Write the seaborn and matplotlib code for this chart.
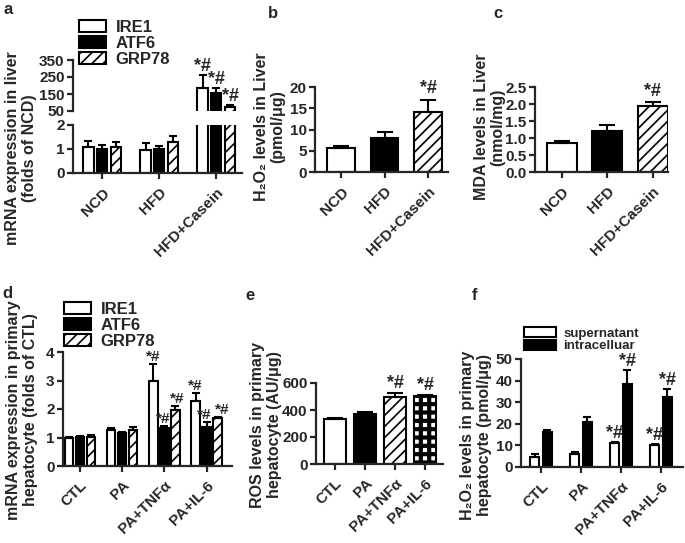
import numpy as np
import pandas as pd
import seaborn as sns
import matplotlib.pyplot as plt
from matplotlib.patches import Patch

# ---- data ----
liver_groups = ["NCD", "HFD", "HFD+Casein"]
cell_groups = ["CTL", "PA", "PA+TNFα", "PA+IL-6"]
genes = ["IRE1", "ATF6", "GRP78"]

# a: mRNA in liver (folds of NCD)
ire1_liver = [1.1, 0.95, 185]
ire1_liver_err = [0.25, 0.28, 75]
atf6_liver = [1.0, 0.98, 155]
atf6_liver_err = [0.15, 0.15, 30]
grp78_liver = [1.08, 1.3, 75]
grp78_liver_err = [0.2, 0.25, 12]

# b: H2O2 in liver
h2o2_liver = [5.6, 7.9, 14.1]
h2o2_liver_err = [0.6, 1.5, 2.9]

# c: MDA in liver
mda_liver = [0.84, 1.2, 1.93]
mda_liver_err = [0.06, 0.19, 0.14]

# d: mRNA in hepatocytes (folds of CTL)
ire1_cell = [1.0, 1.25, 3.0, 2.27]
ire1_cell_err = [0.03, 0.1, 0.58, 0.28]
atf6_cell = [1.02, 1.17, 1.35, 1.38]
atf6_cell_err = [0.02, 0.03, 0.05, 0.15]
grp78_cell = [1.03, 1.27, 1.95, 1.68]
grp78_cell_err = [0.05, 0.1, 0.15, 0.04]

# e: ROS in hepatocytes
ros_cell = [333, 372, 496, 502]
ros_cell_err = [8, 10, 28, 10]

# f: H2O2 in hepatocytes
sources = ["supernatant", "intracelluar"]
h2o2_sup = [4.8, 6.0, 11.0, 10.0]
h2o2_sup_err = [1.2, 0.8, 0.7, 0.5]
h2o2_intra = [16.3, 21.0, 38.4, 32.2]
h2o2_intra_err = [0.6, 2.0, 6.3, 3.7]

sns.set_style("ticks")
plt.rcParams["font.family"] = ["Liberation Sans", "DejaVu Sans"]
plt.rcParams["font.weight"] = "bold"
plt.rcParams["axes.labelweight"] = "bold"
plt.rcParams["hatch.linewidth"] = 1.2

W, H = 685, 543
fig = plt.figure(figsize=(W / 100, H / 100), dpi=100)


def box(x0, x1, y0, y1):
    # axes from pixel edges (y measured from the top)
    return fig.add_axes([x0 / W, 1 - y1 / H, (x1 - x0) / W, (y1 - y0) / H])


def long_frame(groups, names, series):
    rows = []
    for name, vals in zip(names, series):
        for g, v in zip(groups, vals):
            rows.append({"group": g, "series": name, "value": v})
    return pd.DataFrame(rows)


def style(ax, xlim, bottom=True):
    sns.despine(ax=ax)
    ax.spines["left"].set_linewidth(1.6)
    ax.spines["bottom"].set_linewidth(1.6)
    ax.tick_params(width=1.6, length=4, labelsize=11, pad=2)
    ax.tick_params(axis="x", pad=5)
    ax.set_xlim(*xlim)
    ax.set_xlabel("")
    ax.set_ylabel("")
    if bottom:
        plt.setp(ax.get_xticklabels(), rotation=45, ha="right",
                 rotation_mode="anchor")


def bars_sorted(ax):
    return sorted(ax.patches, key=lambda p: p.get_x())


def add_err(ax, bars, vals, errs, cap):
    xs = [b.get_x() + b.get_width() / 2 for b in bars]
    ax.errorbar(xs, vals, yerr=[np.zeros(len(vals)), errs], fmt="none",
                ecolor="black", elinewidth=1.5, capsize=cap, capthick=1.5)


def star(ax, bar, top, size=13, dx=0):
    ax.annotate("*#", (bar.get_x() + bar.get_width() / 2, top),
                xytext=(dx, 0), textcoords="offset points", ha="center",
                va="bottom", fontsize=size, annotation_clip=False,
                clip_on=False)


def grouped(ax, groups, names, series, colors, width, gap):
    df = long_frame(groups, names, series)
    sns.barplot(data=df, x="group", y="value", hue="series", order=groups,
                hue_order=names, palette=colors, edgecolor="black",
                linewidth=1.5, width=width, gap=gap, errorbar=None,
                legend=False, ax=ax)


def single(ax, groups, vals, colors, width):
    sns.barplot(x=groups, y=vals, hue=groups, order=groups, hue_order=groups,
                palette=colors, edgecolor="black", linewidth=1.5, width=width,
                errorbar=None, legend=False, ax=ax)


gene_colors = ["white", "black", "white"]
gene_hatch = [None, None, "///"]

# ---------------- a (broken axis) ----------------
a_vals = [ire1_liver, atf6_liver, grp78_liver]
a_errs = [ire1_liver_err, atf6_liver_err, grp78_liver_err]
flat_a = [a_vals[j][i] for i in range(3) for j in range(3)]
flat_a_err = [a_errs[j][i] for i in range(3) for j in range(3)]

ax_up = box(73, 242, 60, 111)
ax_lo = box(73, 242, 125, 173)
for ax in (ax_up, ax_lo):
    grouped(ax, liver_groups, genes, a_vals, gene_colors, 0.72, 0.25)
    bars = bars_sorted(ax)
    for k, b in enumerate(bars):
        if gene_hatch[k % 3]:
            b.set_hatch(gene_hatch[k % 3])
    add_err(ax, bars, flat_a, flat_a_err, 3)
ax_up.set_ylim(50, 350)
ax_up.set_yticks([50, 150, 250, 350])
style(ax_up, (-0.51, 2.45), bottom=False)
ax_up.spines["bottom"].set_visible(False)
ax_up.tick_params(axis="x", bottom=False, labelbottom=False)
ax_lo.set_ylim(0, 2)
ax_lo.set_yticks([0, 1, 2])
style(ax_lo, (-0.51, 2.45))
up_bars = bars_sorted(ax_up)
for k in range(6, 9):
    star(ax_up, up_bars[k], flat_a[k] + flat_a_err[k])

# ---------------- b ----------------
ax_b = box(315, 448, 87, 172)
single(ax_b, liver_groups, h2o2_liver, gene_colors, 0.64)
bars = bars_sorted(ax_b)
bars[2].set_hatch("///")
add_err(ax_b, bars, h2o2_liver, h2o2_liver_err, 6)
ax_b.set_ylim(0, 20)
ax_b.set_yticks([0, 5, 10, 15, 20])
style(ax_b, (-0.6, 2.46))
star(ax_b, bars[2], h2o2_liver[2] + h2o2_liver_err[2] + 0.6)

# ---------------- c ----------------
ax_c = box(535, 668, 87, 172)
single(ax_c, liver_groups, mda_liver, gene_colors, 0.66)
bars = bars_sorted(ax_c)
bars[2].set_hatch("///")
add_err(ax_c, bars, mda_liver, mda_liver_err, 6)
ax_c.set_ylim(0, 2.5)
ax_c.set_yticks([0, 0.5, 1.0, 1.5, 2.0, 2.5])
ax_c.set_yticklabels(["0.0", "0.5", "1.0", "1.5", "2.0", "2.5"])
style(ax_c, (-0.59, 2.34))
star(ax_c, bars[2], mda_liver[2] + mda_liver_err[2] + 0.05)

# ---------------- d ----------------
d_vals = [ire1_cell, atf6_cell, grp78_cell]
d_errs = [ire1_cell_err, atf6_cell_err, grp78_cell_err]
flat_d = [d_vals[j][i] for i in range(4) for j in range(3)]
flat_d_err = [d_errs[j][i] for i in range(4) for j in range(3)]
ax_d = box(63, 232, 352, 466)
grouped(ax_d, cell_groups, genes, d_vals, gene_colors, 0.78, 0.22)
bars = bars_sorted(ax_d)
for k, b in enumerate(bars):
    if gene_hatch[k % 3]:
        b.set_hatch(gene_hatch[k % 3])
add_err(ax_d, bars, flat_d, flat_d_err, 3)
ax_d.set_ylim(0, 4)
ax_d.set_yticks([0, 1, 2, 3, 4])
style(ax_d, (-0.4, 3.6))
d_shift = [0, -1, 1, 0, -2, 3]
for k, dx in zip(range(6, 12), d_shift):
    star(ax_d, bars[k], flat_d[k] + flat_d_err[k], size=11, dx=dx)

# ---------------- e ----------------
ax_e = box(316, 443, 383, 464)
single(ax_e, cell_groups, ros_cell, ["white", "black", "white", "white"], 0.73)
bars = bars_sorted(ax_e)
bars[2].set_hatch("///")
bars[3].set_hatch("++")
if hasattr(bars[3], "set_hatch_linewidth"):
    bars[3].set_hatch_linewidth(3.0)
add_err(ax_e, bars, ros_cell, ros_cell_err, 6)
ax_e.set_ylim(0, 600)
ax_e.set_yticks([0, 200, 400, 600])
style(ax_e, (-0.63, 3.6))
for k in (2, 3):
    star(ax_e, bars[k], ros_cell[k] + ros_cell_err[k] + 8)

# ---------------- f ----------------
f_vals = [h2o2_sup, h2o2_intra]
f_errs = [h2o2_sup_err, h2o2_intra_err]
flat_f = [f_vals[j][i] for i in range(4) for j in range(2)]
flat_f_err = [f_errs[j][i] for i in range(4) for j in range(2)]
ax_f = box(521, 683, 359, 467)
grouped(ax_f, cell_groups, sources, f_vals, ["white", "black"], 0.64, 0.3)
bars = bars_sorted(ax_f)
add_err(ax_f, bars, flat_f, flat_f_err, 3)
ax_f.set_ylim(0, 50)
ax_f.set_yticks([0, 10, 20, 30, 40, 50])
style(ax_f, (-0.5, 3.55))
for k in range(4, 8):
    star(ax_f, bars[k], flat_f[k] + flat_f_err[k])

# ---------------- legends ----------------
gene_handles = [Patch(facecolor=c, edgecolor="black", linewidth=1.5, hatch=h)
                for c, h in zip(gene_colors, gene_hatch)]
leg_kw = dict(loc="upper left", frameon=False, handlelength=1.6,
              handleheight=0.75, labelspacing=0.05, borderpad=0,
              borderaxespad=0, handletextpad=0.6)
fig.legend(gene_handles, genes, bbox_to_anchor=(79 / W, 1 - 20 / H),
           fontsize=12, **leg_kw)
fig.legend(gene_handles, genes, bbox_to_anchor=(64 / W, 1 - 302 / H),
           fontsize=12, **leg_kw)
src_handles = [Patch(facecolor=c, edgecolor="black", linewidth=1.5)
               for c in ["white", "black"]]
leg_kw.update(handlelength=2.4, labelspacing=0.0, handleheight=0.8)
fig.legend(src_handles, sources, bbox_to_anchor=(524 / W, 1 - 327 / H),
           fontsize=9.5, **leg_kw)

# ---------------- y labels ----------------
def ylab(x, y, text):
    fig.text(x / W, 1 - y / H, text, rotation=90, ha="center", va="center",
             multialignment="center", fontsize=11.5, linespacing=1.1)


ylab(21, 148, "mRNA expression in liver\n(folds of NCD)")
ylab(270, 127, "H₂O₂ levels in Liver\n(pmol/μg)")
ylab(490, 127, "MDA levels in Liver\n(nmol/mg)")
ylab(22, 410, "mRNA expression in primary\nhepatocyte (folds of CTL)")
ylab(266, 425, "ROS levels in primary\nhepatocyte (AU/μg)")
ylab(476, 435, "H₂O₂ levels in primary\nhepatocyte (pmol/μg)")

# ---------------- panel letters ----------------
for x, y, s in [(8, 10, "a"), (273, 14, "b"), (498, 14, "c"),
                (7, 293, "d"), (250, 295, "e"), (475, 295, "f")]:
    fig.text(x / W, 1 - y / H, s, ha="center", va="center", fontsize=12)

fig.savefig("out.png", dpi=100)
